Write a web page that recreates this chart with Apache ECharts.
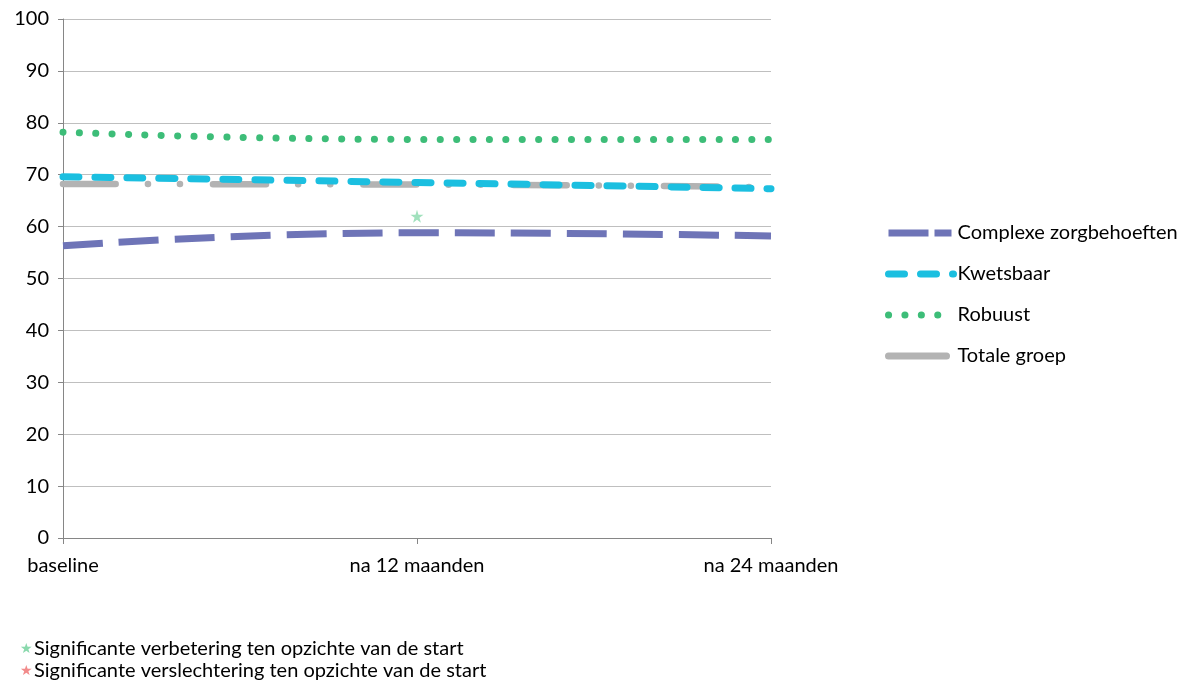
<!DOCTYPE html>
<html><head><meta charset="utf-8">
<script src="https://cdn.jsdelivr.net/npm/echarts@6/dist/echarts.min.js"></script>
<style>html,body{margin:0;padding:0;background:#fff}#c{width:1189px;height:686px}</style>
</head><body><div id="c"></div>
<script>
const categories = ['baseline', 'na 12 maanden', 'na 24 maanden'];
const complexe = [56.3, 58.8, 58.2];
const kwetsbaar = [69.6, 68.5, 67.3];
const robuust = [78.2, 76.8, 76.8];
const totaal = [68.2, 68.1, 67.6];
const sigImprove = [null, 62.0, null];
const yTicks = [0, 10, 20, 30, 40, 50, 60, 70, 80, 90, 100];
const names = ['Complexe zorgbehoeften', 'Kwetsbaar', 'Robuust', 'Totale groep'];
const notes = ['Significante verbetering ten opzichte van de start', 'Significante verslechtering ten opzichte van de start'];

const FONT = 'Lato';
const FS = 20;
const styles = {
  complexe: {color: '#6e74b7', width: 7, type: [40, 16], cap: 'butt'},
  kwetsbaar: {color: '#1bbfe0', width: 7, type: [16, 16], cap: 'round'},
  robuust: {color: '#3dbd78', width: 7, type: [0.1, 16.3], cap: 'round'},
  totaal: {color: '#b3b3b3', width: 6.5, type: [53, 32, 0.1, 32, 0.1, 33], cap: 'round'}
};
const legendStyles = {
  complexe: {color: '#6e74b7', width: 7, type: [40, 6, 17, 20], cap: 'butt'},
  kwetsbaar: {color: '#1bbfe0', width: 7, type: [16, 16], cap: 'round'},
  robuust: {color: '#3dbd78', width: 7, type: [0.1, 16.3], cap: 'round'},
  totaal: {color: '#b3b3b3', width: 7, type: [58, 20], cap: 'round'}
};
const keys = ['complexe', 'kwetsbaar', 'robuust', 'totaal'];

const chart = echarts.init(document.getElementById('c'));
const starPath = 'path://M50,0 L61,35 L98,35 L68,57 L79,91 L50,70 L21,91 L32,57 L2,35 L39,35 Z';
chart.setOption({
  animation: false,
  textStyle: {fontFamily: FONT},
  grid: {left: 63, right: 418, top: 19, bottom: 148, containLabel: false},
  legend: {
    data: names.map((n, i) => ({name: n, lineStyle: legendStyles[keys[i]]})),
    orient: 'vertical', left: 880, top: 218,
    itemWidth: 65, itemHeight: 14, itemGap: 21,
    itemStyle: {opacity: 0},
    textStyle: {fontSize: FS, color: '#000', fontFamily: FONT, padding: [0,0,0,-1]},
  },
  xAxis: {
    type: 'category', data: categories, boundaryGap: false,
    axisLine: {lineStyle: {color: '#868686', width: 1}},
    axisTick: {show: true, length: 6, lineStyle: {color: '#868686'}},
    axisLabel: {color: '#000', fontSize: FS, margin: 18},
    splitLine: {show: false}
  },
  yAxis: {
    type: 'value', min: 0, max: 100, interval: 10,
    axisLine: {show: true, lineStyle: {color: '#868686'}},
    axisTick: {show: true, length: 5, lineStyle: {color: '#868686'}},
    axisLabel: {color: '#000', fontSize: FS, margin: 14,
      formatter: v => yTicks.includes(v) ? String(v) : ''},
    splitLine: {lineStyle: {color: '#bfbfbf', width: 1}}
  },
  series: [
    {name: names[3], type: 'line', data: totaal, smooth: true, symbol: 'none', z: 2,
      lineStyle: styles.totaal},
    {name: names[0], type: 'line', data: complexe, smooth: true, symbol: 'none', z: 3,
      lineStyle: styles.complexe},
    {name: names[1], type: 'line', data: kwetsbaar, smooth: true, symbol: 'none', z: 3,
      lineStyle: styles.kwetsbaar},
    {name: names[2], type: 'line', data: robuust, smooth: true, symbol: 'none', z: 3,
      lineStyle: styles.robuust},
    {name: 'sig', type: 'scatter', data: sigImprove, symbol: starPath, symbolSize: 13,
      itemStyle: {color: '#8ad9ad'}, z: 4}
  ],
  graphic: [
    {type: 'text', left: 20, top: 639, style: {
      text: '{g|★}' + notes[0], fontSize: FS, fontFamily: FONT, fill: '#000',
      rich: {g: {fill: '#8ad9ad', fontSize: 14, padding: [0,1,0,0]}}}},
    {type: 'text', left: 20, top: 661, style: {
      text: '{r|★}' + notes[1], fontSize: FS, fontFamily: FONT, fill: '#000',
      rich: {r: {fill: '#f28b8b', fontSize: 14, padding: [0,1,0,0]}}}}
  ]
});
</script></body></html>
